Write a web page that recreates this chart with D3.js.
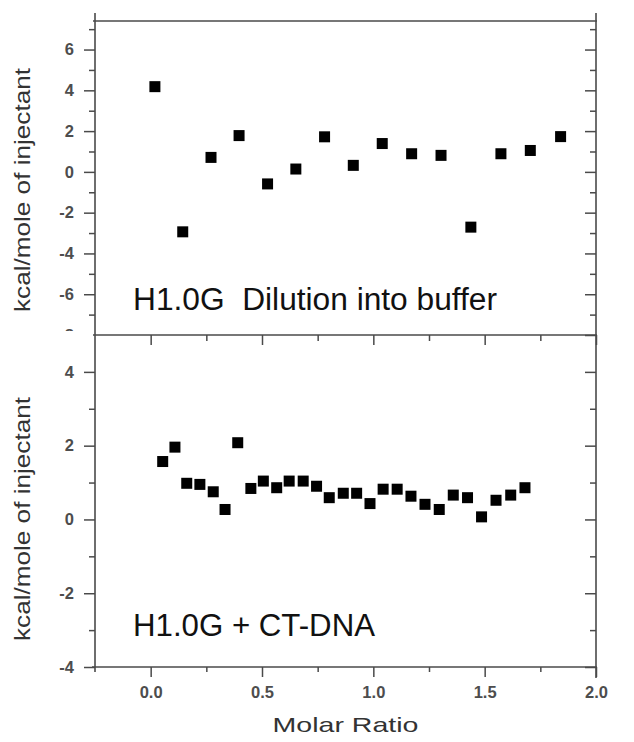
<!DOCTYPE html>
<html>
<head>
<meta charset="utf-8">
<script src="https://cdn.jsdelivr.net/npm/d3@7"></script>
<style>
  html, body { margin: 0; background: #fff; overflow: hidden; }
  svg { display: block; font-family: "Liberation Sans", Arial, sans-serif; }
</style>
</head>
<body>
<div id="chart"></div>
<script>
// Molar ratio / heat per injection
const topX = [0.019, 0.144, 0.271, 0.397, 0.525, 0.652, 0.781, 0.910, 1.040, 1.172, 1.304, 1.438, 1.573, 1.705, 1.841];
const topY = [4.18, -2.94, 0.71, 1.78, -0.59, 0.14, 1.72, 0.32, 1.39, 0.89, 0.81, -2.71, 0.89, 1.05, 1.73];

const botX = [0.054, 0.109, 0.162, 0.221, 0.281, 0.334, 0.391, 0.450, 0.506, 0.566,
              0.622, 0.685, 0.745, 0.802, 0.865, 0.925, 0.985, 1.044, 1.107, 1.169,
              1.232, 1.296, 1.359, 1.423, 1.486, 1.551, 1.617, 1.681];
const botY = [1.57, 1.96, 0.98, 0.95, 0.75, 0.27, 2.08, 0.84, 1.04, 0.86,
              1.04, 1.04, 0.90, 0.59, 0.71, 0.71, 0.43, 0.82, 0.82, 0.63,
              0.41, 0.27, 0.66, 0.59, 0.07, 0.52, 0.66, 0.86];

const xMajor = [0, 0.5, 1.0, 1.5, 2.0];
const xMinor = [0.25, 0.75, 1.25, 1.75];
const topMajor = [-8, -6, -4, -2, 0, 2, 4, 6];
const topMinor = [-7, -5, -3, -1, 1, 3, 5, 7];
const botMajor = [-4, -2, 0, 2, 4];
const botMinor = [-3, -1, 1, 3];

const topLabel = "H1.0G  Dilution into buffer";
const botLabel = "H1.0G + CT-DNA";
const yTitle = "kcal/mole of injectant";
const xTitle = "Molar Ratio";

const width = 634, height = 742;
const pLeft = 95, pRight = 596, pTop = 21, pMid = 335, pBottom = 667;
const axisColor = "#4a4a4a";

const svg = d3.select("#chart").append("svg")
    .attr("width", width)
    .attr("height", height);

const x = d3.scaleLinear().domain([-0.25, 2.0]).range([pLeft, pRight]);
const yTop = d3.scaleLinear().domain([-8, 7.4]).range([pMid, pTop]);
const yBot = d3.scaleLinear().domain([-4, 5]).range([pBottom, pMid]);

// clip so the -8 label gets hidden under the lower panel (local coords of the axis group)
svg.append("clipPath").attr("id", "topClip")
  .append("rect").attr("x", -200).attr("y", 0).attr("width", width).attr("height", 331);

function styleAxis(g) {
    g.select(".domain").remove();
    g.selectAll("line").attr("stroke", axisColor).attr("stroke-width", 1.5);
    g.selectAll("text")
        .attr("fill", "#4d4d4d")
        .style("font-size", "16.5px")
        .style("font-weight", "bold")
        .style("font-family", "'Liberation Sans', Arial, sans-serif");
}

function yAxes(scale, major, minor, clip) {
    const gl = svg.append("g").attr("transform", `translate(${pLeft},0)`);
    if (clip) gl.attr("clip-path", "url(#topClip)");
    gl.call(d3.axisLeft(scale).tickValues(major).tickSize(11).tickPadding(10).tickFormat(d => String(d)))
      .call(styleAxis);
    svg.append("g").attr("transform", `translate(${pLeft},0)`)
      .call(d3.axisLeft(scale).tickValues(minor).tickSize(6).tickFormat(""))
      .call(styleAxis);
    // right side, ticks pointing inward
    svg.append("g").attr("transform", `translate(${pRight},0)`)
      .call(d3.axisLeft(scale).tickValues(major).tickSize(11).tickFormat(""))
      .call(styleAxis);
    svg.append("g").attr("transform", `translate(${pRight},0)`)
      .call(d3.axisLeft(scale).tickValues(minor).tickSize(6).tickFormat(""))
      .call(styleAxis);
}

yAxes(yTop, topMajor, topMinor, true);
yAxes(yBot, botMajor, botMinor, false);

// separator between panels, ticks into the lower panel
svg.append("g").attr("transform", `translate(0,${pMid})`)
  .call(d3.axisBottom(x).tickValues(xMajor).tickSize(10).tickFormat(""))
  .call(styleAxis);
svg.append("g").attr("transform", `translate(0,${pMid})`)
  .call(d3.axisBottom(x).tickValues(xMinor).tickSize(6).tickFormat(""))
  .call(styleAxis);

// bottom axis
svg.append("g").attr("transform", `translate(0,${pBottom})`)
  .call(d3.axisBottom(x).tickValues(xMajor).tickSize(10).tickPadding(9).tickFormat(d3.format(".1f")))
  .call(styleAxis);
svg.append("g").attr("transform", `translate(0,${pBottom})`)
  .call(d3.axisBottom(x).tickValues(xMinor).tickSize(5).tickFormat(""))
  .call(styleAxis);

// frame lines
const frame = svg.append("g").attr("stroke", axisColor).attr("stroke-width", 1.6);
frame.append("line").attr("x1", pLeft - 2).attr("x2", pRight + 1).attr("y1", pTop).attr("y2", pTop);
frame.append("line").attr("x1", pLeft - 2).attr("x2", pRight + 1).attr("y1", pMid).attr("y2", pMid);
frame.append("line").attr("x1", pLeft - 3).attr("x2", pRight + 1).attr("y1", pBottom).attr("y2", pBottom);
frame.append("line").attr("x1", pLeft).attr("x2", pLeft).attr("y1", 13).attr("y2", pBottom + 5);
frame.append("line").attr("x1", pRight).attr("x2", pRight).attr("y1", 13).attr("y2", pBottom + 11);

// markers
const sq = 11;
svg.append("g").selectAll("rect")
  .data(topX.map((d, i) => [d, topY[i]]))
  .join("rect")
  .attr("x", d => x(d[0]) - sq / 2)
  .attr("y", d => yTop(d[1]) - sq / 2)
  .attr("width", sq).attr("height", sq)
  .attr("fill", "#000");

svg.append("g").selectAll("rect")
  .data(botX.map((d, i) => [d, botY[i]]))
  .join("rect")
  .attr("x", d => x(d[0]) - sq / 2)
  .attr("y", d => yBot(d[1]) - sq / 2)
  .attr("width", sq).attr("height", sq)
  .attr("fill", "#000");

// panel labels
svg.append("text")
  .attr("x", 133).attr("y", 310)
  .attr("textLength", 364).attr("lengthAdjust", "spacingAndGlyphs")
  .style("font-size", "31px").style("white-space", "pre")
  .attr("fill", "#111")
  .text(topLabel);

svg.append("text")
  .attr("x", 133).attr("y", 636)
  .attr("textLength", 242).attr("lengthAdjust", "spacingAndGlyphs")
  .style("font-size", "31px").style("white-space", "pre")
  .attr("fill", "#111")
  .text(botLabel);

// axis titles
[190, 519].forEach(cy => {
    svg.append("text")
      .attr("transform", `translate(30,${cy}) rotate(-90)`)
      .attr("text-anchor", "middle")
      .attr("textLength", 244).attr("lengthAdjust", "spacingAndGlyphs")
      .style("font-size", "22px")
      .attr("fill", "#333")
      .text(yTitle);
});

svg.append("text")
  .attr("x", (pLeft + pRight) / 2).attr("y", 732)
  .attr("text-anchor", "middle")
  .attr("textLength", 146).attr("lengthAdjust", "spacingAndGlyphs")
  .style("font-size", "21px")
  .attr("fill", "#333")
  .text(xTitle);
</script>
</body>
</html>
